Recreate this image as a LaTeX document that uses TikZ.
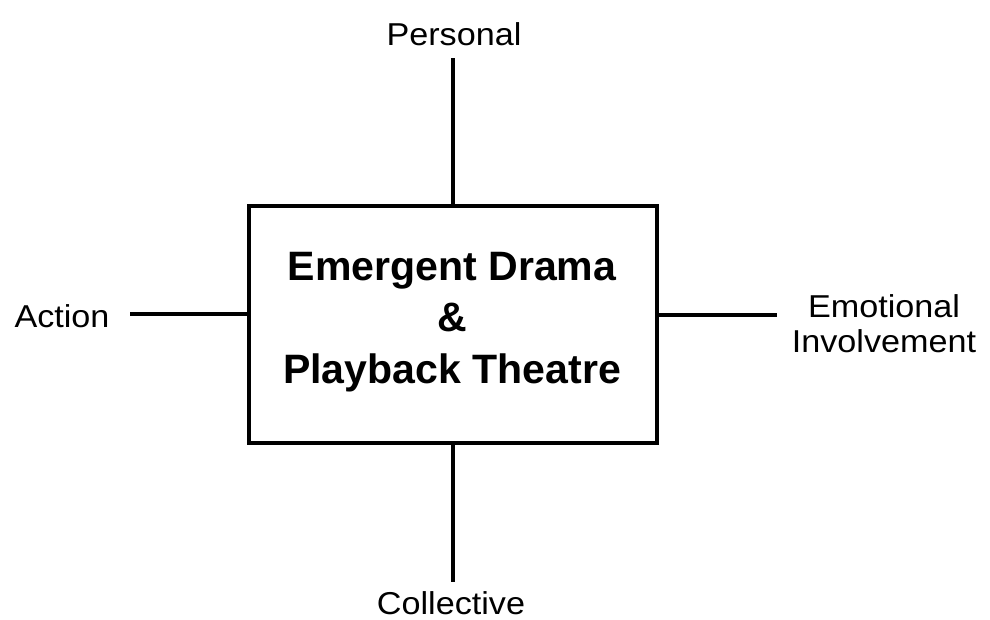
\documentclass[tikz,border=0pt]{standalone}
\usepackage{fontspec}
\setmainfont{Liberation Sans}
\newfontfamily\polefont[FakeStretch=1.08]{Liberation Sans}
\usepackage{tikz}
\usetikzlibrary{positioning}

\begin{document}
\begin{tikzpicture}[
  x=0.025cm, y=-0.025cm,
  box/.style={rectangle, draw=black, line width=2.4pt, fill=white,
              minimum width=10.2cm, minimum height=5.925cm},
  title/.style={font=\fontsize{29.2}{36.5}\selectfont\bfseries, align=center},
  pole/.style={font=\polefont\fontsize{22.5}{24.8}\selectfont, align=center, anchor=base},
  axis/.style={line width=2.4pt, color=black}
]
  \useasboundingbox (0,0) rectangle (990,619);
  % Central box
  \node[box] (box) at (453,324.5) {};
  \node[title] (title) at (452,322) {Emergent Drama\\\&\\Playback Theatre};
  % Pole labels
  \node[pole] (personal) at (454,45) {Personal};
  \node[pole] (collective) at (451,614) {Collective};
  \node[pole] (action) at (62,327) {Action};
  \node[pole] (emotional) at (884,352) {Emotional\\Involvement};
  % Free ends of the axes
  \coordinate (ptop) at (453,58);
  \coordinate (pbot) at (453,582);
  \coordinate (plft) at (130,314);
  \coordinate (prgt) at (777,315);

  % Axes
  \draw[axis] (ptop) -- (box.north);
  \draw[axis] (box.south) -- (pbot);
  \draw[axis] (plft) -- (plft -| box.west);
  \draw[axis] (prgt -| box.east) -- (prgt);
\end{tikzpicture}
\end{document}
